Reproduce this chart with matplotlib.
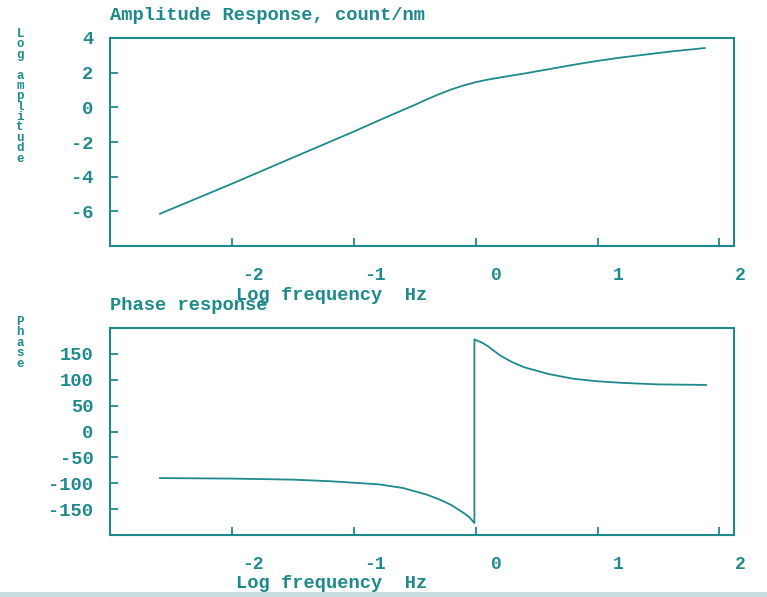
import matplotlib.pyplot as plt
from matplotlib.patches import Rectangle
from matplotlib.transforms import ScaledTranslation

# values
amp_logf = [-2.59, -2.0, -1.5, -1.0, -0.75, -0.5, -0.4, -0.3, -0.2, -0.1, 0.0, 0.1, 0.2, 0.3,
            0.4, 0.6, 0.8, 1.0, 1.2, 1.4, 1.6, 1.88]
amp_log = [-6.14, -4.41, -2.9, -1.4, -0.62, 0.14, 0.46, 0.76, 1.03, 1.26, 1.45, 1.6, 1.72, 1.84,
           1.95, 2.2, 2.45, 2.68, 2.88, 3.05, 3.22, 3.42]

phase_logf = [-2.59, -2.0, -1.5, -1.2, -1.0, -0.8, -0.6, -0.4, -0.3, -0.2, -0.1, -0.05, -0.01,
              -0.01, 0.05, 0.1, 0.2, 0.3, 0.4, 0.6, 0.8, 1.0, 1.2, 1.5, 1.89]
phase_deg = [-90, -91, -93, -96, -99, -102, -109, -122, -131, -142, -157, -166, -177,
             178, 172, 165, 147, 134, 124, 111, 102, 97, 94, 91, 90]

xticks = [-2, -1, 0, 1, 2]
amp_yticks = [4, 2, 0, -2, -4, -6]
phase_yticks = [150, 100, 50, 0, -50, -100, -150]

teal = '#1f8a8c'
W, H = 767, 597
font = dict(family='Liberation Mono', weight='bold', size=13.5, color=teal)

fig = plt.figure(figsize=(W / 100, H / 100), dpi=100)
fig.patch.set_facecolor('white')


def px(x, y):
    return x / W, 1 - y / H


def setup(ax, ylim, yticks, title, ylabel, title_y, label_top, xlabel_y):
    ax.set_xlim(-3.0, 2.12)
    ax.set_ylim(*ylim)
    ax.set_xticks(xticks)
    ax.set_xticklabels([str(t) for t in xticks])
    ax.set_yticks(yticks)
    ax.set_yticklabels([str(t) for t in yticks])
    for s in ax.spines.values():
        s.set_color(teal)
        s.set_linewidth(1.5)
    ax.tick_params(axis='both', direction='in', length=6, width=1.3, color=teal,
                   labelcolor=teal, top=False, right=False)
    ax.tick_params(axis='y', pad=12)
    ax.tick_params(axis='x', pad=15)
    for lab in ax.get_xticklabels() + ax.get_yticklabels():
        lab.set_fontfamily('Liberation Mono')
        lab.set_fontweight('bold')
        lab.set_fontsize(13.5)
    for lab in ax.get_xticklabels():
        lab.set_fontsize(13)
        lab.set_transform(lab.get_transform() + ScaledTranslation(0.21, 0, fig.dpi_scale_trans))
    fig.text(*px(110, title_y), title, va='center', ha='left', **font)
    fig.text(*px(236, xlabel_y), 'Log frequency  Hz', va='center', ha='left', **font)
    # stacked y label, one character per line
    fig.text(*px(20, label_top), '\n'.join(ylabel), va='top', ha='center',
             family='Liberation Mono', weight='bold', size=9, color=teal,
             linespacing=0.82, multialignment='center')


ax1 = fig.add_axes([110 / W, 1 - 246 / H, 624 / W, 208 / H])
ax1.plot(amp_logf, amp_log, color=teal, linewidth=1.3)
setup(ax1, (-8, 4), amp_yticks, 'Amplitude Response, count/nm', 'Log amplitude', 16, 28, 295)

ax2 = fig.add_axes([110 / W, 1 - 535 / H, 624 / W, 207 / H])
ax2.plot(phase_logf, phase_deg, color=teal, linewidth=1.3)
setup(ax2, (-200, 200), phase_yticks, 'Phase response', 'Phase', 306, 316, 584)

fig.patches.append(Rectangle((0, 0), 1, 5 / H, transform=fig.transFigure,
                             facecolor='#c9dede', edgecolor='none'))

fig.savefig('out.png', dpi=100)
